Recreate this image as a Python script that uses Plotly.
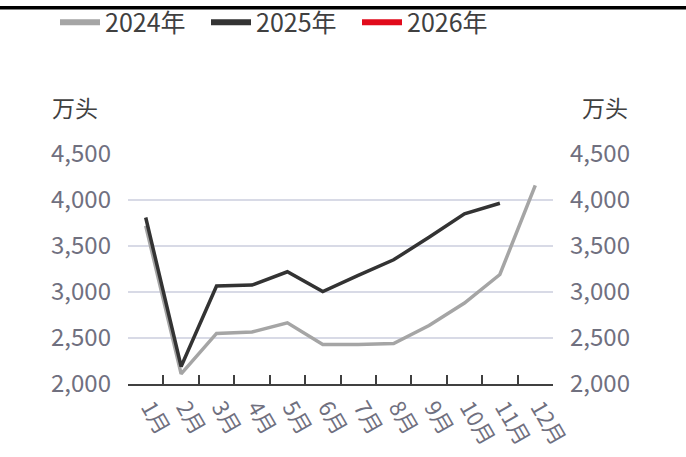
import plotly.graph_objects as go

months = ['1月', '2月', '3月', '4月', '5月', '6月', '7月', '8月', '9月', '10月', '11月', '12月']
y2024 = [3720, 2110, 2550, 2565, 2665, 2430, 2428, 2440, 2635, 2880, 3190, 4160]
y2025 = [3810, 2190, 3065, 3075, 3220, 3005, 3180, 3350, 3595, 3850, 3965, None]
y2026 = [None] * 12

series_names = ['2024年', '2025年', '2026年']
series_colors = ['#a5a5a5', '#333333', '#e10b1b']
tick_vals = [2000, 2500, 3000, 3500, 4000, 4500]

FONT = 'Noto Sans CJK SC'
TICK_COLOR = '#70707f'

fig = go.Figure()
for name, vals, col in zip(series_names[:2], [y2024, y2025], series_colors[:2]):
    fig.add_trace(go.Scatter(x=months, y=vals, mode='lines', name=name,
                             line=dict(color=col, width=3.5), showlegend=False,
                             legendgroup=name, connectgaps=False))
fig.add_trace(go.Scatter(x=months, y=y2026, mode='lines', name=series_names[2],
                         line=dict(color=series_colors[2], width=3.5), showlegend=False,
                         legendgroup=series_names[2], yaxis='y2'))
# legend entries
for name, col in zip(series_names, series_colors):
    fig.add_trace(go.Scatter(x=[None], y=[None], mode='lines', name=name,
                             line=dict(color=col, width=6), legendgroup=name))

yaxis_common = dict(range=[2000, 4500], tickvals=tick_vals, tickformat=',',
                    tickfont=dict(family=FONT, size=24, color=TICK_COLOR),
                    zeroline=False, showline=False, ticks='', fixedrange=True,
                    automargin=False)

PW = 425
PH = 230
fig.update_layout(
    width=686, height=457,
    margin=dict(l=128, r=133, t=154, b=73, autoexpand=False),
    paper_bgcolor='white', plot_bgcolor='white',
    font=dict(family=FONT),
    xaxis=dict(type='category', categoryorder='array', categoryarray=months,
               range=[-0.5, 11.5], tickson='boundaries', ticks='inside', ticklen=9,
               tickwidth=1.5, tickcolor='#404040', showline=True, linecolor='#404040',
               linewidth=2, showgrid=False, tickangle=60, automargin=False,
               ticklabelshift=4,
               tickfont=dict(family=FONT, size=22, color=TICK_COLOR)),
    yaxis=dict(**yaxis_common, showgrid=True, gridcolor='#d8dae6', gridwidth=1.5,
               ticklabelstandoff=16),
    yaxis2=dict(**yaxis_common, overlaying='y', side='right', showgrid=False,
                ticklabelstandoff=16),
    legend=dict(orientation='h', xref='paper', yref='paper',
                x=(55 - 128) / PW, y=1 + (154 - 22.5) / PH, xanchor='left', yanchor='middle',
                font=dict(family=FONT, size=25, color='#404040'),
                itemwidth=40, entrywidth=96, entrywidthmode='pixels',
                bgcolor='rgba(0,0,0,0)'),
    shapes=[dict(type='line', xref='paper', yref='paper',
                 x0=-140 / PW, x1=(700 - 128) / PW,
                 y0=1 + (154 - 7.7) / PH, y1=1 + (154 - 7.7) / PH,
                 line=dict(color='black', width=3.5))],
    annotations=[
        dict(text='万头', xref='paper', yref='paper', x=(75 - 128) / PW,
             y=1 + (154 - 107.5) / PH, showarrow=False, xanchor='center', yanchor='middle',
             font=dict(family=FONT, size=23, color='#404040')),
        dict(text='万头', xref='paper', yref='paper', x=(605 - 128) / PW,
             y=1 + (154 - 107.5) / PH, showarrow=False, xanchor='center', yanchor='middle',
             font=dict(family=FONT, size=23, color='#404040')),
    ],
)

fig.write_html('out.html', config={'displayModeBar': False},
               post_script="document.body.style.margin='0';document.body.style.overflow='hidden';")
